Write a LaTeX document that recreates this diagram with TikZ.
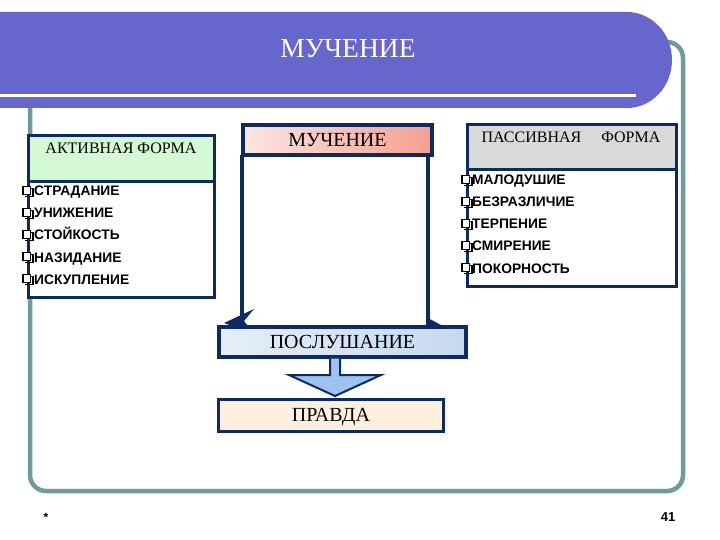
\documentclass[tikz,border=0pt]{standalone}
\usepackage{fontspec}
\setmainfont{Liberation Serif}
\newfontfamily\itemfont{Liberation Sans}
\definecolor{bannerc}{HTML}{6666CC}
\definecolor{framec}{HTML}{6E9C98}
\definecolor{navy}{HTML}{0E2A62}
\definecolor{hgreen}{HTML}{D3F8D3}
\definecolor{hgray}{HTML}{D9D9D9}
\definecolor{pinkL}{HTML}{FCE6E2}
\definecolor{pinkR}{HTML}{F4A091}
\definecolor{blueL}{HTML}{E6EEF9}
\definecolor{blueR}{HTML}{C6D8F0}
\definecolor{arrowc}{HTML}{9DC3EE}
\definecolor{peach}{HTML}{FDF1DE}
\tikzset{
  boxline/.style={draw=navy, line width=3pt},
  formbox/.style={boxline, fill=white, anchor=north west, inner sep=0pt},
  headbox/.style={boxline, anchor=north west, inner sep=0pt},
  headtxt/.style={font=\fontsize{16}{18}\selectfont, inner sep=0pt, text height=10.6pt, text depth=0pt},
  item/.style={anchor=base west, inner sep=0pt, font=\itemfont\bfseries\fontsize{13.8}{15}\selectfont},
  bulbox/.style={draw=black, line width=1.5pt, fill=white},
  flowbox/.style={draw=navy, line width=4pt, inner sep=0pt, font=\fontsize{20}{22}\selectfont, text height=13.3pt, text depth=0pt},
  conn/.style={draw=navy, line width=4pt}
}
\begin{document}
\begin{tikzpicture}[x=1pt,y=-1pt]
\useasboundingbox[fill=white] (0,0) rectangle (720,540);
% frame
\draw[framec, line width=4.5pt, rounded corners=16pt] (30,42) rectangle (683,491);
% banner
\fill[bannerc] (0,12) -- (627,12) arc[start angle=-90, end angle=90, x radius=45, y radius=48] -- (0,108) -- cycle;
\draw[white, line width=3pt] (0,96) -- (636,96);
\node[text=white, font=\fontsize{27.5}{29}\selectfont, inner sep=0pt, text height=18.2pt, text depth=0pt] (title) at (348,48) {МУЧЕНИЕ};

% left box
\node[formbox, minimum width=186, minimum height=162] (lbox) at (27,134) {};
\node[headbox, fill=hgreen, minimum width=186, minimum height=46] (lhead) at (27,134) {};
\node[headtxt] (lheadtxt) at (121,148) {АКТИВНАЯ ФОРМА};
\node[item] (l1) at (34,196) {СТРАДАНИЕ};
\node[item] (l2) at (34,218) {УНИЖЕНИЕ};
\node[item] (l3) at (34,240) {СТОЙКОСТЬ};
\node[item] (l4) at (34,262) {НАЗИДАНИЕ};
\node[item] (l5) at (34,284) {ИСКУПЛЕНИЕ};
\foreach \yy in {191,213,235,257,279}{
  \draw[black, line width=1.2pt] (25,\yy-2.5) -- (33,\yy-2.5) -- (33,\yy+5.5) -- (25,\yy+5.5);
  \draw[bulbox] (23,\yy-4.5) rectangle (30.5,\yy+3.5);
}

% right box
\node[formbox, minimum width=209, minimum height=162] (rbox) at (466,123) {};
\node[headbox, fill=hgray, minimum width=209, minimum height=45] (rhead) at (466,123) {};
\node[headtxt] (rheadtxt) at (571,137) {ПАССИВНАЯ\hspace{20pt}ФОРМА};
\node[item] (r1) at (472,185) {МАЛОДУШИЕ};
\node[item] (r2) at (472,207) {БЕЗРАЗЛИЧИЕ};
\node[item] (r3) at (472,229) {ТЕРПЕНИЕ};
\node[item] (r4) at (472,251) {СМИРЕНИЕ};
\node[item] (r5) at (472,273) {ПОКОРНОСТЬ};
\foreach \yy in {180,202,224,246,268}{
  \draw[black, line width=1.2pt] (464,\yy-2.5) -- (472,\yy-2.5) -- (472,\yy+5.5) -- (464,\yy+5.5);
  \draw[bulbox] (462,\yy-4.5) rectangle (469.5,\yy+3.5);
}

% centre column
\coordinate (lcol) at (242,318);
\coordinate (rcol) at (428,322);
\draw[conn] (242,155) -- (lcol);
\draw[conn] (428,155) -- (rcol);
\fill[navy] (224,323) -- (254,309) -- (244,321) -- (254,334) -- cycle;
\fill[navy] (426,317) -- (441,325) -- (426,328) -- cycle;

\node[flowbox, left color=pinkL, right color=pinkR, minimum width=189, minimum height=30] (much) at (337.5,140) {МУЧЕНИЕ};
\node[flowbox, left color=blueL, right color=blueR, minimum width=247, minimum height=30] (posl) at (342.5,341.5) {ПОСЛУШАНИЕ};
\node[flowbox, line width=3pt, fill=peach, minimum width=225, minimum height=32] (pravda) at (331,415) {ПРАВДА};

\draw[navy, line width=2pt, fill=arrowc, line join=miter]
  (posl.south -| 330,0) -- (330,375) -- (289,375) -- (335,396) -- (381,375) -- (340,375) -- (posl.south -| 340,0);

% footer
\node[font=\itemfont\bfseries\fontsize{12}{12}\selectfont, inner sep=0pt] (star) at (46,517) {*};
\node[font=\itemfont\bfseries\fontsize{13}{13}\selectfont, inner sep=0pt] (pnum) at (668,517) {41};
\end{tikzpicture}
\end{document}
